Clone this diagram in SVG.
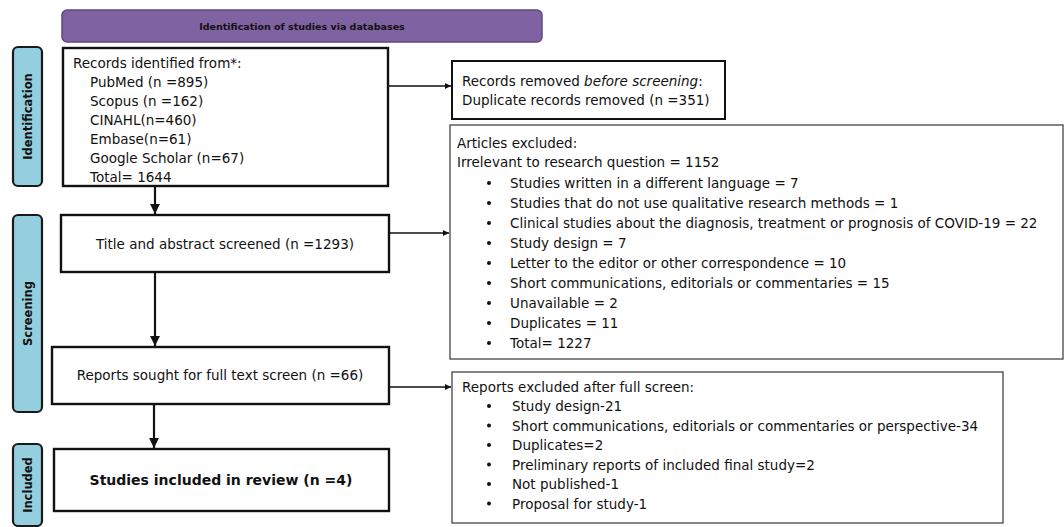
<svg xmlns="http://www.w3.org/2000/svg" width="1064" height="527" viewBox="0 0 1064 527">
<style>
text{font-family:"DejaVu Sans","Liberation Sans",sans-serif;fill:#111}
.t{font-size:13.5px}
.b{font-size:14px;font-weight:bold}
.side{fill:#93cfdf;stroke:#1a1a1a;stroke-width:2.2}
.sl{font-size:11.5px;font-weight:bold;text-anchor:middle}
.box{fill:#fff;stroke:#111;stroke-width:2.4}
.thin{fill:#fff;stroke:#444;stroke-width:1.3}
.c{stroke:#111;stroke-width:1.4;fill:none}
.v{stroke:#111;stroke-width:2.2;fill:none}
</style>
<defs>
<marker id="ah" viewBox="0 0 10 10" refX="10" refY="5" markerWidth="6" markerHeight="6" markerUnits="userSpaceOnUse" orient="auto"><path d="M0,0 L10,5 L0,10 z" fill="#111"/></marker>
<marker id="av" viewBox="0 0 10 10" refX="10" refY="5" markerWidth="4.5" markerHeight="4.5" markerUnits="strokeWidth" orient="auto"><path d="M0,0 L10,5 L0,10 z" fill="#111"/></marker>
</defs>
<rect width="1064" height="527" fill="#fff"/>
<g id="header">
<rect x="62" y="10" width="480" height="32" rx="5" fill="#7f62a1" stroke="#5f4a80" stroke-width="1.5"/>
<text x="302" y="29.5" style="font-size:9.5px;font-weight:bold;text-anchor:middle">Identification of studies via databases</text>
</g>
<g id="side-identification">
<rect class="side" x="13" y="47" width="29" height="139" rx="5"/>
<text class="sl" transform="translate(32,116.5) rotate(-90)">Identification</text>
</g>
<g id="side-screening">
<rect class="side" x="13" y="215" width="29" height="197" rx="5"/>
<text class="sl" transform="translate(32,313.5) rotate(-90)">Screening</text>
</g>
<g id="side-included">
<rect class="side" x="13" y="444" width="29" height="82" rx="5"/>
<text class="sl" transform="translate(32,485) rotate(-90)">Included</text>
</g>
<g id="records">
<rect class="box" x="63" y="48" width="325" height="138"/>
<text class="t" x="73" y="68">Records identified from*:</text>
<text class="t" x="90" y="87">PubMed (n =895)</text>
<text class="t" x="90" y="106">Scopus (n =162)</text>
<text class="t" x="90" y="125">CINAHL(n=460)</text>
<text class="t" x="90" y="144">Embase(n=61)</text>
<text class="t" x="90" y="163">Google Scholar (n=67)</text>
<text class="t" x="90" y="182">Total= 1644</text>
</g>
<g id="removed">
<rect class="box" x="452" y="61" width="273" height="58" style="stroke-width:2"/>
<text class="t" x="462" y="86">Records removed <tspan font-style="italic">before screening</tspan>:</text>
<text class="t" x="462" y="105">Duplicate records removed (n =351)</text>
</g>
<g id="title-screened">
<rect class="box" x="61" y="215" width="328" height="57"/>
<text class="t" x="225" y="249" text-anchor="middle">Title and abstract screened (n =1293)</text>
</g>
<g id="articles-excluded">
<rect class="thin" x="450" y="125" width="613" height="234"/>
<text class="t" x="457" y="148">Articles excluded:</text>
<text class="t" x="457" y="167">Irrelevant to research question = 1152</text>
<circle cx="489" cy="183" r="2" fill="#111"/><text class="t" x="510" y="188">Studies written in a different language = 7</text>
<circle cx="489" cy="203" r="2" fill="#111"/><text class="t" x="510" y="208">Studies that do not use qualitative research methods = 1</text>
<circle cx="489" cy="223" r="2" fill="#111"/><text class="t" x="510" y="228">Clinical studies about the diagnosis, treatment or prognosis of COVID-19 = 22</text>
<circle cx="489" cy="243" r="2" fill="#111"/><text class="t" x="510" y="248">Study design = 7</text>
<circle cx="489" cy="263" r="2" fill="#111"/><text class="t" x="510" y="268">Letter to the editor or other correspondence = 10</text>
<circle cx="489" cy="283" r="2" fill="#111"/><text class="t" x="510" y="288">Short communications, editorials or commentaries = 15</text>
<circle cx="489" cy="303" r="2" fill="#111"/><text class="t" x="510" y="308">Unavailable = 2</text>
<circle cx="489" cy="323" r="2" fill="#111"/><text class="t" x="510" y="328">Duplicates = 11</text>
<circle cx="489" cy="343" r="2" fill="#111"/><text class="t" x="510" y="348">Total= 1227</text>
</g>
<g id="reports-sought">
<rect class="box" x="52" y="347" width="337" height="57"/>
<text class="t" x="220" y="380" text-anchor="middle">Reports sought for full text screen (n =66)</text>
</g>
<g id="reports-excluded">
<rect class="thin" x="452" y="372" width="551" height="151"/>
<text class="t" x="462" y="392">Reports excluded after full screen:</text>
<circle cx="489" cy="406" r="2" fill="#111"/><text class="t" x="512" y="411">Study design-21</text>
<circle cx="489" cy="425.5" r="2" fill="#111"/><text class="t" x="512" y="430.5">Short communications, editorials or commentaries or perspective-34</text>
<circle cx="489" cy="445" r="2" fill="#111"/><text class="t" x="512" y="450">Duplicates=2</text>
<circle cx="489" cy="464.5" r="2" fill="#111"/><text class="t" x="512" y="469.5">Preliminary reports of included final study=2</text>
<circle cx="489" cy="484" r="2" fill="#111"/><text class="t" x="512" y="489">Not published-1</text>
<circle cx="489" cy="503.5" r="2" fill="#111"/><text class="t" x="512" y="508.5">Proposal for study-1</text>
</g>
<g id="included">
<rect class="box" x="54" y="449" width="335" height="62"/>
<text class="b" x="221" y="485" text-anchor="middle">Studies included in review (n =4)</text>
</g>
<g id="connectors">
<line class="v" x1="155" y1="187" x2="155" y2="214" marker-end="url(#av)"/>
<line class="v" x1="155" y1="273" x2="155" y2="346" marker-end="url(#av)"/>
<line class="v" x1="154" y1="405" x2="154" y2="448" marker-end="url(#av)"/>
<line class="c" x1="389" y1="86" x2="451" y2="86" marker-end="url(#ah)"/>
<line class="c" x1="390" y1="233" x2="449" y2="233" marker-end="url(#ah)"/>
<line class="c" x1="390" y1="387" x2="451" y2="387" marker-end="url(#ah)"/>
</g>
</svg>
